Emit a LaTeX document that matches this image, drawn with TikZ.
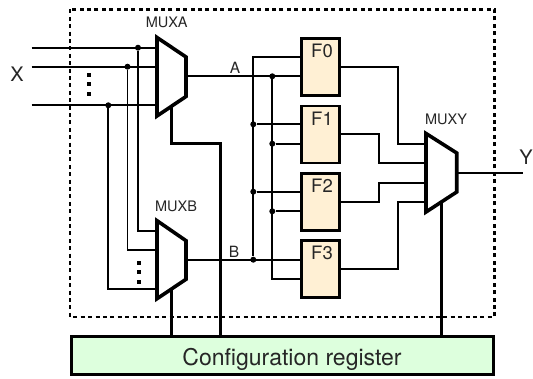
\documentclass[tikz,border=0pt]{standalone}
\usepackage{fontspec}
\setmainfont{TeX Gyre Heros}
\begin{document}
\begin{tikzpicture}[x=1pt,y=-1pt,
  wire/.style={line width=1.8pt,line join=miter},
  ctrl/.style={line width=3pt,line join=miter},
  muxbody/.style={draw,line width=3.6pt,fill=white,line join=miter},
  fblock/.style={draw,line width=2.8pt,fill=fcol,minimum width=38pt,minimum height=57pt,inner sep=0pt,outer sep=0pt},
  ftext/.style={font=\fontsize{18.5}{18.5}\selectfont,inner sep=0pt,text=black!85},
  muxtext/.style={font=\fontsize{14.5}{14.5}\selectfont,inner sep=0pt,text=black!85},
  sigtext/.style={font=\fontsize{15.5}{15.5}\selectfont,inner sep=0pt,text=black!85},
  iotext/.style={font=\fontsize{20}{20}\selectfont,inner sep=0pt,text=black!85},
  jn/.style={circle,fill=black,inner sep=0pt,minimum size=6pt},
  sq/.style={fill=black,inner sep=0pt,minimum size=4pt},
  frame/.style={line width=2.1pt,dash pattern=on 4pt off 3.4pt},
]
\definecolor{fcol}{HTML}{FFF0D4}
\definecolor{ccol}{HTML}{DDFFDD}
\useasboundingbox (0,0) rectangle (533,379);
\fill[white] (0,0) rectangle (533,379);

% dashed frame
\draw[frame] (70,9.5) rectangle (494.5,317);

% named points
\coordinate (x0) at (31.7,47.7);
\coordinate (x1) at (31.7,66.7);
\coordinate (x2) at (31.7,105.3);
\node[jn] (j0) at (138,47.7) {};
\node[jn] (j1) at (127.5,66.7) {};
\node[jn] (j2) at (108.3,105.3) {};
\coordinate (mal0) at (157,47.7);
\coordinate (mal1) at (157,66.7);
\coordinate (mal2) at (157,105.3);
\coordinate (mbl0) at (157,230.7);
\coordinate (mbl1) at (157,250.3);
\coordinate (mbl2) at (157,288.7);
\coordinate (maout) at (186,76.3);
\coordinate (mbout) at (186,259.7);
\coordinate (myout) at (456.7,173);
\coordinate (yend) at (523,173);
\coordinate (mactl) at (171,106);
\coordinate (mbctl) at (171,289);
\coordinate (myctl) at (441,203);
\coordinate (my0) at (426,144);
\coordinate (my1) at (426,163.3);
\coordinate (my2) at (426,182.7);
\coordinate (my3) at (426,201.7);

% config register
\node[draw,line width=3pt,fill=ccol,minimum width=422pt,minimum height=37.5pt,inner sep=0pt,outer sep=0pt] (cfg) at (282.5,355.5) {};
\node[font=\fontsize{23}{23}\selectfont,text=black!85,inner sep=0pt,anchor=base] (cfgt) at (292,366) {Configuration register};

% F blocks
\node[fblock] (f0) at (320.5,67) {};
\node[fblock] (f1) at (320.5,134.5) {};
\node[fblock] (f2) at (320.5,201.7) {};
\node[fblock] (f3) at (320.5,269.3) {};
\node[ftext] (f0t) at (322,51) {F0};
\node[ftext] (f1t) at (322,118.5) {F1};
\node[ftext] (f2t) at (322,185.5) {F2};
\node[ftext] (f3t) at (322,253) {F3};

% bus junctions
\node[jn] (a0) at (272.3,76.3) {};
\node[jn] (a1) at (272.3,143.7) {};
\node[jn] (a2) at (272.3,211.3) {};
\coordinate (a3) at (272.3,279);
\coordinate (b0) at (253.3,57.3);
\node[jn] (b1) at (253.3,124.3) {};
\node[jn] (b2) at (253.3,191.7) {};
\node[jn] (b3) at (253.3,259.7) {};

% input wires
\draw[wire] (x0) -- (mal0);
\draw[wire] (x1) -- (mal1);
\draw[wire] (x2) -- (mal2);
\draw[wire] (j0) |- (mbl0);
\draw[wire] (j1) |- (mbl1);
\draw[wire] (j2) |- (mbl2);

% mux outputs and buses
\draw[wire] (maout) -- (f0.west |- maout);
\draw[wire] (mbout) -- (f3.west |- mbout);
\draw[wire] (f0.west |- b0) -- (b0) -- (b3);
\draw[wire] (a0) -- (a3) -- (f3.west |- a3);
\draw[wire] (b1) -- (f1.west |- b1);
\draw[wire] (a1) -- (f1.west |- a1);
\draw[wire] (b2) -- (f2.west |- b2);
\draw[wire] (a2) -- (f2.west |- a2);

% F outputs
\draw[wire] (f0.east |- 0,66.7) -| (398,144) -- (my0);
\draw[wire] (f1.east |- 0,134.3) -| (378.7,163.3) -- (my1);
\draw[wire] (f2.east |- 0,201.7) -| (378.7,182.7) -- (my2);
\draw[wire] (f3.east |- 0,269) -| (398,201.7) -- (my3);
\draw[wire] (myout) -- (yend);

% control wires
\draw[ctrl] (mactl) |- (220,143.7) -- (cfg.north -| 220,0);
\draw[ctrl] (mbctl) -- (cfg.north -| mbctl);
\draw[ctrl] (myctl) -- (cfg.north -| myctl);

% muxes
\draw[muxbody] (157,37.5) -- (186,57) -- (186,96.5) -- (157,116) -- cycle;
\draw[muxbody] (157,220.7) -- (186,240.7) -- (186,279.3) -- (157,298.7) -- cycle;
\draw[muxbody] (426,133.5) -- (456.7,153) -- (456.7,192) -- (426,212) -- cycle;

% ellipsis squares
\node[sq] (d0) at (89,75) {};
\node[sq] (d1) at (89,84.5) {};
\node[sq] (d2) at (89,94) {};
\node[sq] (e0) at (139.3,262.7) {};
\node[sq] (e1) at (139.3,272) {};
\node[sq] (e2) at (139.3,282) {};

% labels
\node[muxtext] (la) at (166.7,22.7) {MUXA};
\node[muxtext] (lb) at (176,206.7) {MUXB};
\node[muxtext] (ly) at (446,119.5) {MUXY};
\node[iotext] (lx) at (17,74.5) {X};
\node[iotext] (ly2) at (526,157) {Y};
\node[sigtext] (sa) at (235,68) {A};
\node[sigtext] (sb) at (234,251.5) {B};
\end{tikzpicture}
\end{document}
